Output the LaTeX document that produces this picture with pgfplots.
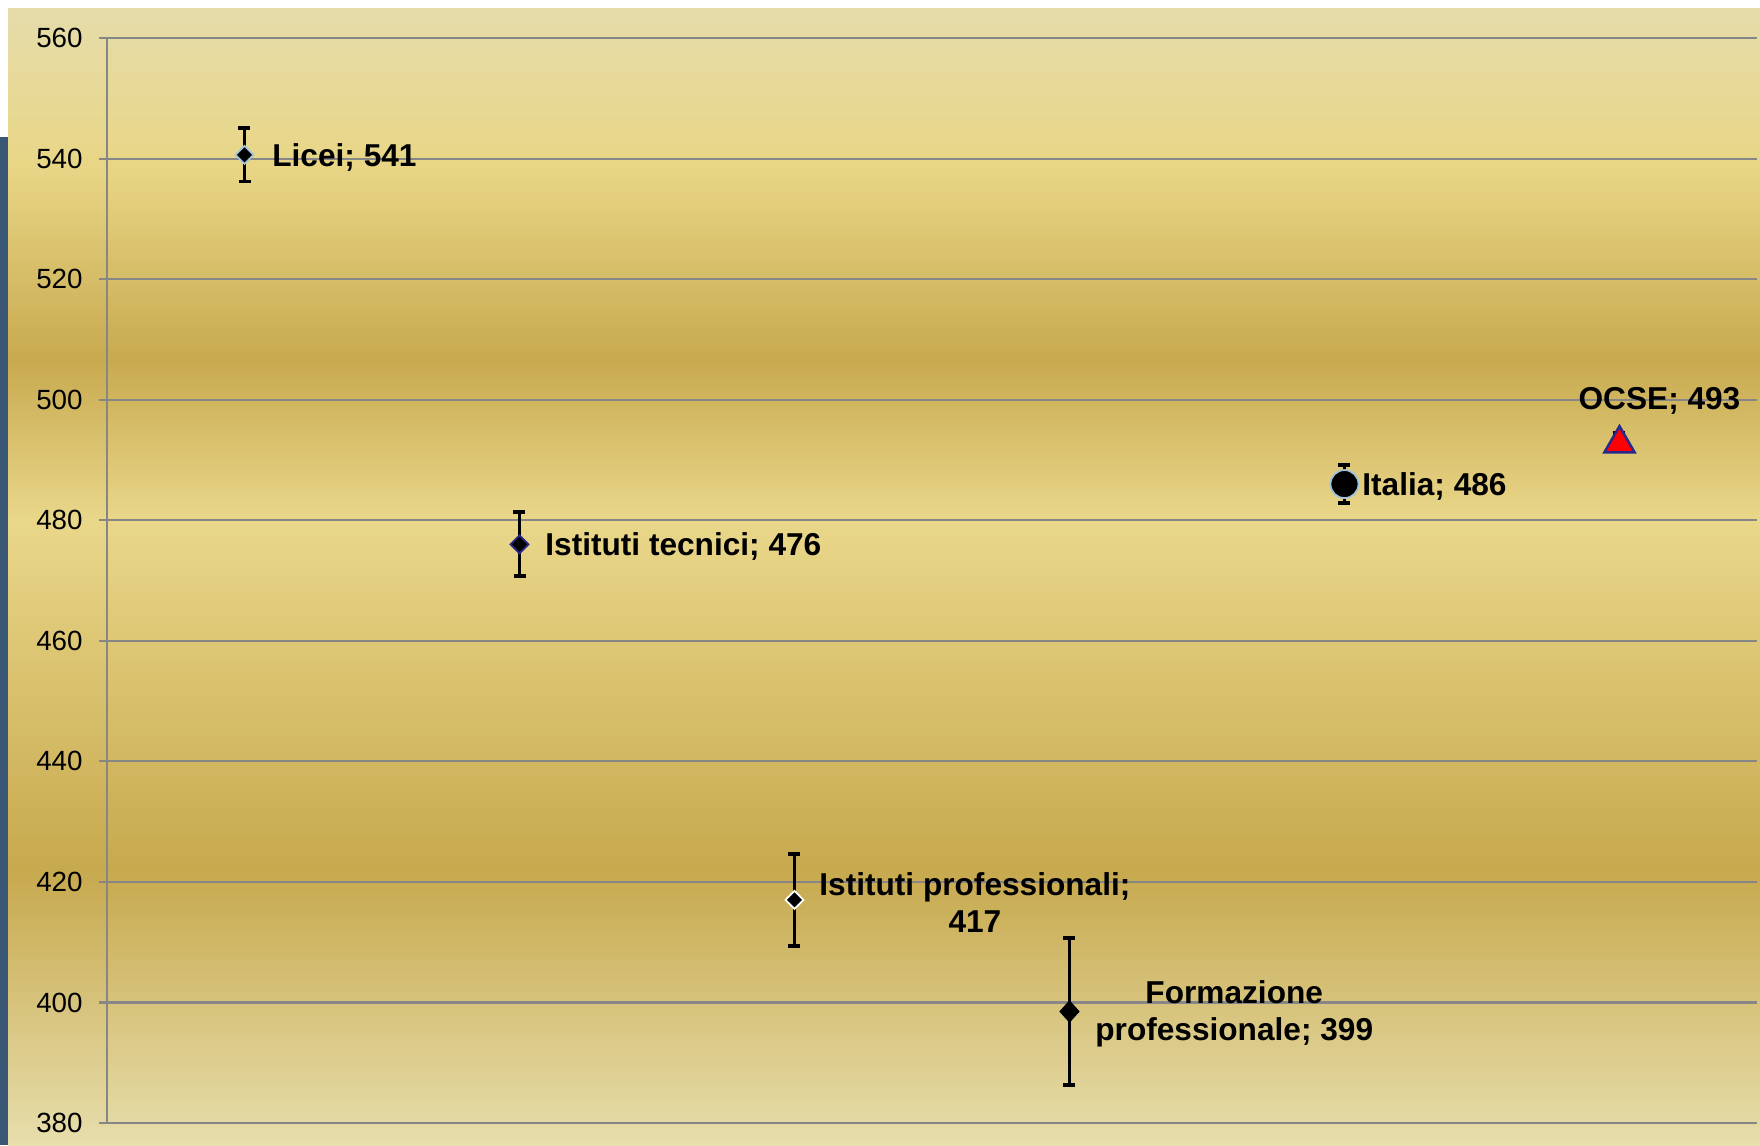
\documentclass[border=0pt]{standalone}
\usepackage{fontspec}
\setmainfont{Liberation Sans}
\usepackage{pgfplots}
\pgfplotsset{compat=1.18}

\definecolor{bgA}{RGB}{230,220,170}
\definecolor{bgB}{RGB}{232,214,134}
\definecolor{bgC}{RGB}{200,170,80}
\definecolor{bgD}{RGB}{233,215,138}
\definecolor{bgE}{RGB}{199,169,78}
\definecolor{bgF}{RGB}{231,222,172}
\definecolor{gridgray}{RGB}{134,134,134}
\definecolor{slate}{RGB}{58,88,118}
\definecolor{lblue}{RGB}{160,196,220}
\definecolor{navy}{RGB}{40,40,140}

\pgfplotsset{
  ebars/.style={
    error bars/y dir=both, error bars/y explicit,
    error bars/error bar style={black, line width=1.1pt},
    error bars/error mark options={rotate=90, black, mark size=0.06cm, line width=1.1pt},
  },
}

\begin{document}
\begin{tikzpicture}
% page frame and background bands
\path (0,0) rectangle (17.6,11.45);
\shade[top color=bgA,bottom color=bgB] (0.08,11.36) rectangle (17.6,9.80);
\shade[top color=bgB,bottom color=bgC] (0.08,9.80) rectangle (17.6,7.85);
\shade[top color=bgC,bottom color=bgD] (0.08,7.85) rectangle (17.6,6.25);
\shade[top color=bgD,bottom color=bgE] (0.08,6.25) rectangle (17.6,2.75);
\shade[top color=bgE,bottom color=bgF] (0.08,2.75) rectangle (17.6,0);
\fill[slate] (0,0) rectangle (0.08,10.08);

\begin{axis}[
  at={(1.07cm,0.22cm)}, anchor=south west,
  scale only axis, width=16.5cm, height=10.85cm,
  xmin=0, xmax=6, ymin=380, ymax=560,
  axis x line=none, axis y line=left,
  axis line style={-, draw=gridgray, line width=0.6pt},
  ytick={380,400,...,560},
  ymajorgrids, grid style={gridgray, line width=0.6pt},
  tick align=outside, major tick length=0.08cm,
  ytick style={gridgray, line width=0.6pt},
  yticklabel style={font=\fontsize{7.9}{8.5}\selectfont, black, xshift=-0.04cm},
  /pgf/number format/assume math mode=true,
  clip=false,
  only marks,
  every node near coord/.style={black, inner sep=0pt, yshift=-0.025cm,
    font=\bfseries\fontsize{9}{10.4}\selectfont, align=center},
]
\addplot[ebars, mark=diamond*, mark size=0.09cm,
  mark options={fill=black, draw=lblue, line width=0.5pt, xscale=1.33},
  nodes near coords={Licei; 541},
  nodes near coords style={anchor=west, xshift=0.27cm}]
  coordinates {(0.5,540.6) +- (0,4.4)};
\addplot[ebars, mark=diamond*, mark size=0.09cm,
  mark options={fill=black, draw=navy, line width=0.5pt, xscale=1.33},
  nodes near coords={Istituti tecnici; 476},
  nodes near coords style={anchor=west, xshift=0.25cm}]
  coordinates {(1.5,476) +- (0,5.3)};
\addplot[ebars, mark=diamond*, mark size=0.09cm,
  mark options={fill=black, draw=white, line width=0.5pt, xscale=1.33},
  nodes near coords={Istituti professionali;\\417},
  nodes near coords style={anchor=west, xshift=0.24cm}]
  coordinates {(2.5,417) +- (0,7.6)};
\addplot[ebars, mark=diamond*, mark size=0.10cm,
  mark options={fill=black, draw=black, line width=0.5pt, xscale=1.2},
  nodes near coords={Formazione\\professionale; 399},
  nodes near coords style={anchor=west, xshift=0.25cm}]
  coordinates {(3.5,398.5) +- (0,12.2)};
\addplot[ebars, mark=*, mark size=0.14cm,
  mark options={fill=black, draw=lblue, line width=0.5pt},
  nodes near coords={Italia; 486},
  nodes near coords style={anchor=west, xshift=0.17cm}]
  coordinates {(4.5,486) +- (0,3.2)};
\addplot[ebars, mark=triangle*, mark size=0.175cm,
  mark options={fill=red, draw=navy, line width=0.7pt},
  nodes near coords={OCSE; 493},
  nodes near coords style={anchor=center, xshift=0.40cm, yshift=0.45cm}]
  coordinates {(5.5,492.7) += (0,1.8) -= (0,0.5)};
\end{axis}
\end{tikzpicture}
\end{document}
